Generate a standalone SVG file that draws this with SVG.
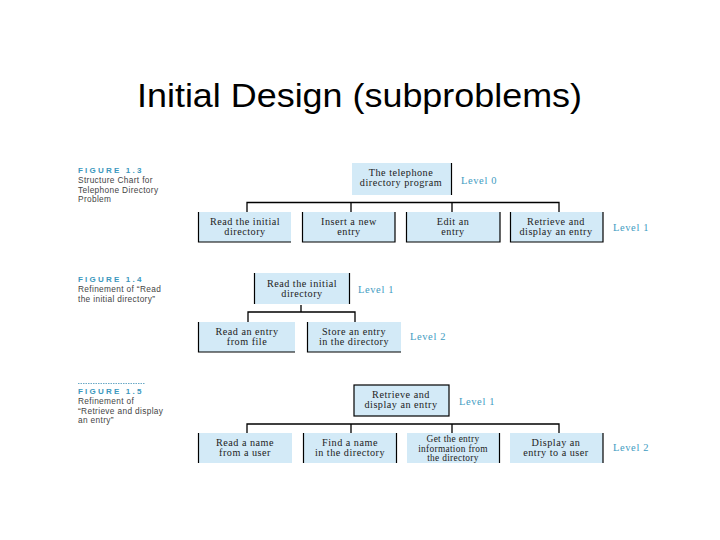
<svg xmlns="http://www.w3.org/2000/svg" width="720" height="540" viewBox="0 0 720 540">
<style>
.title{font-family:"Liberation Sans",Arial,sans-serif;font-size:33px;fill:#000}
.fig{font-family:"Liberation Sans",Arial,sans-serif;font-size:8px;font-weight:bold;fill:#3a97bd;letter-spacing:2.2px}
.cap{font-family:"Liberation Sans",Arial,sans-serif;font-size:8.3px;fill:#444;letter-spacing:0.35px}
.lvl{font-family:"Liberation Serif","Times New Roman",serif;font-size:10.5px;fill:#3f9cc2;letter-spacing:0.6px}
.bx{fill:#d3eaf7}
.bt{font-family:"Liberation Serif","Times New Roman",serif;font-size:10.2px;fill:#222;text-anchor:middle;letter-spacing:0.5px}
.bts{font-family:"Liberation Serif","Times New Roman",serif;font-size:9.4px;fill:#222;text-anchor:middle;letter-spacing:0.3px}
.edge{fill:none;stroke:#000;stroke-width:1.2}
.conn{fill:none;stroke:#000;stroke-width:1.3}
</style>
<rect width="720" height="540" fill="#fff"/>
<text class="title" x="137" y="107" textLength="445" lengthAdjust="spacingAndGlyphs">Initial Design (subproblems)</text>

<g id="caption13">
<text class="fig" x="78" y="173">FIGURE 1.3</text>
<text class="cap" x="78" y="183">Structure Chart for</text>
<text class="cap" x="78" y="192.5">Telephone Directory</text>
<text class="cap" x="78" y="202">Problem</text>
</g>
<g id="caption14">
<text class="fig" x="78" y="282">FIGURE 1.4</text>
<text class="cap" x="78" y="292">Refinement of “Read</text>
<text class="cap" x="78" y="301.5">the initial directory”</text>
</g>
<g id="caption15">
<line x1="78" y1="383.5" x2="145" y2="383.5" stroke="#6aa9c6" stroke-width="1" stroke-dasharray="1.5,1"/>
<text class="fig" x="78" y="394">FIGURE 1.5</text>
<text class="cap" x="78" y="404">Refinement of</text>
<text class="cap" x="78" y="413.5">“Retrieve and display</text>
<text class="cap" x="78" y="423">an entry”</text>
</g>

<g id="connectors">
<path class="conn" d="M247,212 V202.5 H559 V212 M351,202.5 V212 M452,202.5 V212"/>
<path class="conn" d="M301,305 V312 M248,322 V312 H355 V322"/>
<path class="conn" d="M247,433 V424 H559 V433 M351,424 V433 M452,424 V433"/>
</g>

<g id="f13-l0">
<rect class="bx" x="352" y="163" width="99" height="32"/>
<path class="edge" d="M451.5,163 V195"/>
<text class="bt" x="401" y="176">The telephone</text>
<text class="bt" x="401" y="186">directory program</text>
</g>
<text class="lvl" x="461" y="184">Level 0</text>

<g id="f13-read">
<rect class="bx" x="198" y="212" width="93" height="30"/>
<path class="edge" d="M198.5,212 V242 H291"/>
<text class="bt" x="245" y="225">Read the initial</text>
<text class="bt" x="245" y="235">directory</text>
</g>
<g id="f13-insert">
<rect class="bx" x="302" y="212" width="93" height="30"/>
<path class="edge" d="M302.5,212 V242 H395 V212"/>
<text class="bt" x="349" y="225">Insert a new</text>
<text class="bt" x="349" y="235">entry</text>
</g>
<g id="f13-edit">
<rect class="bx" x="406" y="212" width="94" height="30"/>
<path class="edge" d="M406.5,212 V242 H500 V212"/>
<text class="bt" x="453" y="225">Edit an</text>
<text class="bt" x="453" y="235">entry</text>
</g>
<g id="f13-retrieve">
<rect class="bx" x="510" y="212" width="93" height="30"/>
<path class="edge" d="M510.5,212 V242 H603 V212"/>
<text class="bt" x="556" y="225">Retrieve and</text>
<text class="bt" x="556" y="235">display an entry</text>
</g>
<text class="lvl" x="613" y="231">Level 1</text>

<g id="f14-l1">
<rect class="bx" x="254" y="273" width="96" height="31"/>
<path class="edge" d="M254.5,273 V304 M349.5,273 V304"/>
<text class="bt" x="302" y="287">Read the initial</text>
<text class="bt" x="302" y="297">directory</text>
</g>
<text class="lvl" x="358" y="293">Level 1</text>
<g id="f14-readentry">
<rect class="bx" x="198" y="322" width="97" height="30"/>
<path class="edge" d="M198.5,322 V352 H295"/>
<text class="bt" x="247" y="335">Read an entry</text>
<text class="bt" x="247" y="345">from file</text>
</g>
<g id="f14-store">
<rect class="bx" x="307" y="322" width="94" height="30"/>
<path class="edge" d="M307.5,322 V352 H401"/>
<text class="bt" x="354" y="335">Store an entry</text>
<text class="bt" x="354" y="345">in the directory</text>
</g>
<text class="lvl" x="410" y="340">Level 2</text>

<g id="f15-l1">
<rect class="bx" x="354" y="385" width="95" height="31" stroke="#000" stroke-width="1.2"/>
<text class="bt" x="401" y="398">Retrieve and</text>
<text class="bt" x="401" y="408">display an entry</text>
</g>
<text class="lvl" x="459" y="405">Level 1</text>
<g id="f15-readname">
<rect class="bx" x="198" y="433" width="94" height="30"/>
<path class="edge" d="M198.5,433 V463"/>
<text class="bt" x="245" y="446">Read a name</text>
<text class="bt" x="245" y="456">from a user</text>
</g>
<g id="f15-findname">
<rect class="bx" x="303" y="433" width="94" height="30"/>
<path class="edge" d="M303.5,433 V463 M396.5,433 V463"/>
<text class="bt" x="350" y="446">Find a name</text>
<text class="bt" x="350" y="456">in the directory</text>
</g>
<g id="f15-getentry">
<rect class="bx" x="407" y="433" width="93" height="30"/>
<path class="edge" d="M499.5,433 V463"/>
<text class="bts" x="453" y="442">Get the entry</text>
<text class="bts" x="453" y="451.5">information from</text>
<text class="bts" x="453" y="461">the directory</text>
</g>
<g id="f15-display">
<rect class="bx" x="510" y="433" width="93" height="30"/>
<path class="edge" d="M603,433 V463"/>
<text class="bt" x="556" y="446">Display an</text>
<text class="bt" x="556" y="456">entry to a user</text>
</g>
<text class="lvl" x="613" y="451">Level 2</text>
</svg>
